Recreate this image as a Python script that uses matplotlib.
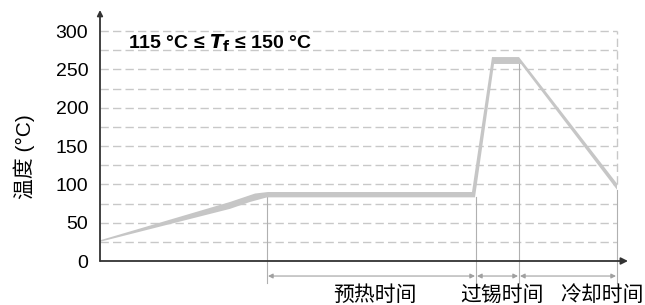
import matplotlib.pyplot as plt
import numpy as np

plt.rcParams['font.family'] = ['Liberation Sans', 'Noto Sans CJK SC', 'DejaVu Sans']

# band of the soldering profile (time in arbitrary units, temperature in °C)
t_upper = [0, 130, 155, 168, 372, 392, 419, 517]
temp_upper = [27, 77, 88, 90, 90, 266, 266, 101]
t_lower = [0, 130, 150, 167, 375, 394, 421, 517]
temp_lower = [25, 68, 77, 83, 83, 257, 257, 93]

# phase boundaries and labels
phase_edges = [167, 376, 419, 517]
phase_labels = ['预热时间', '过锡时间', '冷却时间']
label_pos = [275, 402, 502]

yticks = [0, 50, 100, 150, 200, 250, 300]
grid_levels = np.arange(25, 301, 25)

fig = plt.figure(figsize=(6.45, 3.05), dpi=100)
ax = fig.add_axes([100 / 645, 44 / 305, 528 / 645, 251 / 305])
ax.set_xlim(0, 528)
ax.set_ylim(0, 327.4)
for s in ax.spines.values():
    s.set_visible(False)
ax.set_xticks([])
ax.set_yticks(yticks)
ax.tick_params(axis='y', length=0, pad=8.5, labelsize=14)

# dashed grid
for g in grid_levels:
    ax.plot([0, 517], [g, g], color='#c8c8c8', lw=1, dashes=(6, 3), zorder=1)
ax.plot([517, 517], [101, 300], color='#c8c8c8', lw=1, dashes=(6, 3), zorder=1)

# temperature band
poly_x = list(t_upper) + list(t_lower[::-1])
poly_y = list(temp_upper) + list(temp_lower[::-1])
ax.fill(poly_x, poly_y, color='#c6c6c6', lw=0, zorder=3)

# vertical phase lines
tops = [83, 83, 257, 93]
for x, top in zip(phase_edges, tops):
    ax.plot([x, x], [-29, top], color='#b0b0b0', lw=0.8, zorder=2, clip_on=False)

# axis arrows
ax.annotate('', xy=(528, 0), xytext=(0, 0),
            arrowprops=dict(arrowstyle='-|>', color='#333333', lw=1.3,
                            mutation_scale=10, shrinkA=0, shrinkB=0),
            annotation_clip=False, zorder=5)
ax.annotate('', xy=(0, 327.4), xytext=(0, 0),
            arrowprops=dict(arrowstyle='-|>', color='#333333', lw=1.3,
                            mutation_scale=8, shrinkA=0, shrinkB=0),
            annotation_clip=False, zorder=5)

# duration arrows
for a, b in zip(phase_edges[:-1], phase_edges[1:]):
    ax.annotate('', xy=(b - 1, -19.6), xytext=(a + 1, -19.6),
                arrowprops=dict(arrowstyle='<|-|>', color='#a0a0a0', lw=0.8,
                                mutation_scale=7, shrinkA=0, shrinkB=0),
                annotation_clip=False)

for lab, x in zip(phase_labels, label_pos):
    ax.text(x, -45, lab, ha='center', va='center', fontsize=15, clip_on=False)

ax.text(28, 284, r'115 °C ≤ $\mathbfit{T}_\mathbf{f}$ ≤ 150 °C', fontsize=14,
        fontweight='bold', va='center', ha='left')

fig.text(24 / 645, 1 - 157 / 305, '温度 (°C)', rotation=90, fontsize=15,
         ha='center', va='center')

fig.savefig('out.png', dpi=100)
